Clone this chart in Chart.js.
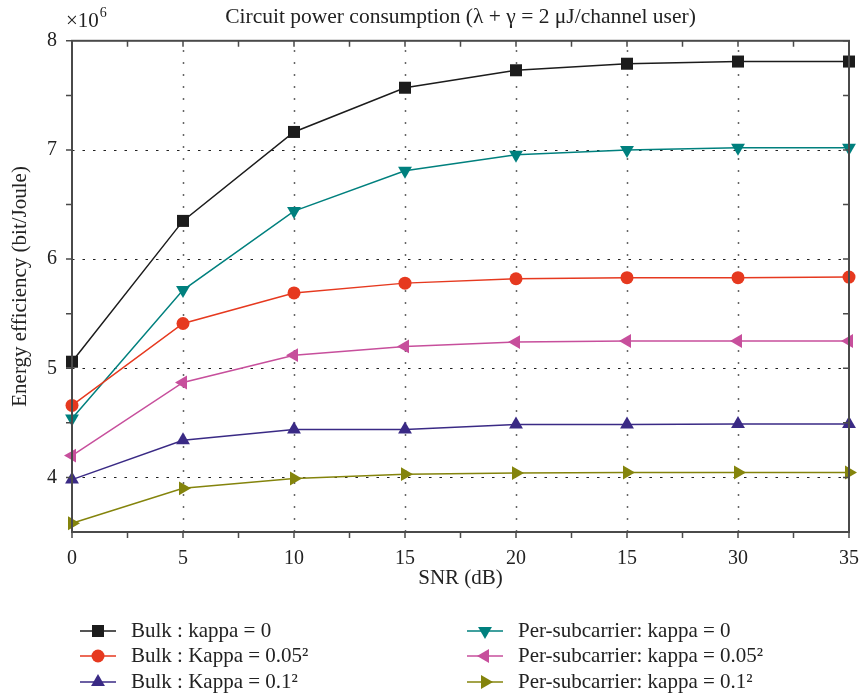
<!DOCTYPE html>
<html><head><meta charset="utf-8">
<script src="https://cdn.jsdelivr.net/npm/chart.js@4/dist/chart.umd.min.js"></script>
<style>html,body{margin:0;padding:0;background:#fff}#wrap{width:862px;height:698px;position:relative}</style>
</head><body><div id="wrap"><canvas id="c" width="862" height="698"></canvas></div>
<script>
// ---- data ----
const snr = [0, 5, 10, 15, 20, 25, 30, 35];
const xTickLabels = ["0", "5", "10", "15", "20", "15", "30", "35"];
const yTicks = [4, 5, 6, 7, 8];
const seriesNames = [
  "Bulk : kappa = 0",
  "Bulk : Kappa = 0.05\u00B2",
  "Bulk : Kappa = 0.1\u00B2",
  "Per-subcarrier: kappa = 0",
  "Per-subcarrier: kappa = 0.05\u00B2",
  "Per-subcarrier: kappa = 0.1\u00B2"
];
const bulkK0    = [5.06, 6.35, 7.165, 7.57, 7.73, 7.79, 7.81, 7.81];
const bulkK005  = [4.66, 5.41, 5.69, 5.78, 5.82, 5.83, 5.83, 5.835];
const bulkK01   = [3.98, 4.34, 4.44, 4.44, 4.485, 4.485, 4.49, 4.49];
const perK0     = [4.54, 5.716, 6.44, 6.81, 6.955, 7.0, 7.02, 7.02];
const perK005   = [4.20, 4.87, 5.12, 5.20, 5.24, 5.25, 5.25, 5.25];
const perK01    = [3.58, 3.90, 3.99, 4.03, 4.04, 4.045, 4.045, 4.045];

const FONT = "'Liberation Serif', 'DejaVu Serif', serif";
const styles = [
  {color: '#1c1c1c', pointStyle: 'rect', radius: 8.5, rotation: 0},
  {color: '#e6391f', pointStyle: 'circle', radius: 6.5, rotation: 0},
  {color: '#3a2a85', pointStyle: 'triangle', radius: 8, rotation: 0},
  {color: '#00807e', pointStyle: 'triangle', radius: 8, rotation: 180},
  {color: '#c74f9c', pointStyle: 'triangle', radius: 8, rotation: -90},
  {color: '#84840c', pointStyle: 'triangle', radius: 8, rotation: 90}
];
const allSeries = [bulkK0, bulkK005, bulkK01, perK0, perK005, perK01];

const datasets = allSeries.map((arr, i) => ({
  label: seriesNames[i],
  data: arr.map((v, j) => ({x: snr[j], y: v})),
  borderColor: styles[i].color,
  backgroundColor: styles[i].color,
  pointBackgroundColor: styles[i].color,
  pointBorderColor: styles[i].color,
  pointStyle: styles[i].pointStyle,
  pointRadius: styles[i].radius,
  pointRotation: styles[i].rotation,
  pointBorderWidth: 0,
  borderWidth: 1.5,
  tension: 0,
  clip: false
}));

const framePlugin = {
  id: 'frame',
  beforeDatasetsDraw(chart) {
    const {ctx, chartArea: a, scales: {x, y}} = chart;
    ctx.save();
    ctx.lineWidth = 1.5;
    ctx.strokeStyle = '#666';
    ctx.setLineDash([2, 10]);
    snr.forEach(v => {
      if (v === x.min || v === x.max) return;
      const px = Math.round(x.getPixelForValue(v)) + 0.5;
      ctx.beginPath(); ctx.moveTo(px, a.bottom); ctx.lineTo(px, a.top); ctx.stroke();
    });
    ctx.strokeStyle = '#222';
    ctx.lineWidth = 1.2;
    ctx.setLineDash([2.5, 8]);
    yTicks.forEach(v => {
      if (v === y.min || v === y.max) return;
      const py = Math.round(y.getPixelForValue(v)) + 0.5;
      ctx.beginPath(); ctx.moveTo(a.left, py); ctx.lineTo(a.right, py); ctx.stroke();
    });
    ctx.restore();
  },
  afterDraw(chart) {
    const {ctx, chartArea: a, scales: {x, y}} = chart;
    ctx.save();
    ctx.strokeStyle = '#4a4a4a';
    ctx.lineWidth = 2;
    ctx.setLineDash([]);
    ctx.strokeRect(a.left, a.top, a.right - a.left, a.bottom - a.top);
    ctx.lineWidth = 1.5;
    for (let v = x.min; v <= x.max + 1e-9; v += 2.5) {
      const px = x.getPixelForValue(v);
      const len = 6;
      ctx.beginPath();
      ctx.moveTo(px, a.bottom); ctx.lineTo(px, a.bottom + len);
      ctx.moveTo(px, a.top); ctx.lineTo(px, a.top + len);
      ctx.stroke();
    }
    for (let v = 4; v <= y.max + 1e-9; v += 0.5) {
      const py = y.getPixelForValue(v);
      const len = 6;
      ctx.beginPath();
      ctx.moveTo(a.left, py); ctx.lineTo(a.left - len, py);
      ctx.moveTo(a.right, py); ctx.lineTo(a.right - len, py);
      ctx.stroke();
    }
    // x10^6 multiplier
    ctx.fillStyle = '#222';
    ctx.textBaseline = 'alphabetic';
    ctx.textAlign = 'left';
    ctx.font = '21px ' + FONT;
    ctx.fillText('\u00D710', 66, 27);
    const w = ctx.measureText('\u00D710').width;
    ctx.font = '14px ' + FONT;
    ctx.fillText('6', 66 + w + 1, 17);
    // legend
    const cols = [{lx: 80, tx: 131}, {lx: 467, tx: 518}];
    const rows = [631, 656, 682];
    const H = Chart.helpers;
    chart.data.datasets.forEach((ds, i) => {
      const c = cols[Math.floor(i / 3)], ry = rows[i % 3];
      ctx.strokeStyle = ds.borderColor;
      ctx.fillStyle = ds.backgroundColor;
      ctx.lineWidth = 1.5;
      ctx.beginPath(); ctx.moveTo(c.lx, ry); ctx.lineTo(c.lx + 36, ry); ctx.stroke();
      if (H && H.drawPoint) {
        H.drawPoint(ctx, {pointStyle: ds.pointStyle, rotation: ds.pointRotation, radius: ds.pointRadius, borderWidth: 0}, c.lx + 18, ry);
      }
      ctx.fillStyle = '#222';
      ctx.font = '21px ' + FONT;
      ctx.textBaseline = 'middle';
      ctx.fillText(ds.label, c.tx, ry);
    });
    ctx.restore();
  }
};

new Chart(document.getElementById('c'), {
  type: 'line',
  data: {datasets},
  options: {
    responsive: false,
    animation: false,
    devicePixelRatio: 1,
    layout: {padding: {top: 0, right: 13, bottom: 106, left: 0}},
    plugins: {
      legend: {display: false},
      tooltip: {enabled: false},
      title: {
        display: true,
        fullSize: false,
        text: 'Circuit power consumption (\u03BB + \u03B3 = 2 \u03BCJ/channel user)',
        color: '#222',
        font: {family: FONT, size: 21.5, weight: 'normal'},
        padding: {top: 4, bottom: 11}
      }
    },
    scales: {
      x: {
        type: 'linear', min: 0, max: 35,
        afterBuildTicks: s => { s.ticks = snr.map(v => ({value: v})); },
        afterFit: s => { s.height = 60; s.paddingRight = 0; s.paddingLeft = 0; },
        grid: {display: false, drawTicks: false},
        border: {display: false},
        ticks: {
          padding: 15, color: '#222', maxRotation: 0, autoSkip: false,
          font: {family: FONT, size: 20},
          callback: (v, i) => xTickLabels[i]
        },
        title: {display: true, text: 'SNR (dB)', color: '#222', font: {family: FONT, size: 21}, padding: {top: 0, bottom: 1}}
      },
      y: {
        type: 'linear', min: 3.5, max: 8,
        afterBuildTicks: s => { s.ticks = yTicks.map(v => ({value: v})); },
        afterFit: s => { s.width = 72; },
        grid: {display: false, drawTicks: false},
        border: {display: false},
        ticks: {padding: 15, color: '#222', font: {family: FONT, size: 20}},
        title: {display: true, text: 'Energy efficiency (bit/Joule)', color: '#222', font: {family: FONT, size: 21}, padding: {top: 8, bottom: 0}}
      }
    }
  },
  plugins: [framePlugin]
});
</script>
</body></html>
